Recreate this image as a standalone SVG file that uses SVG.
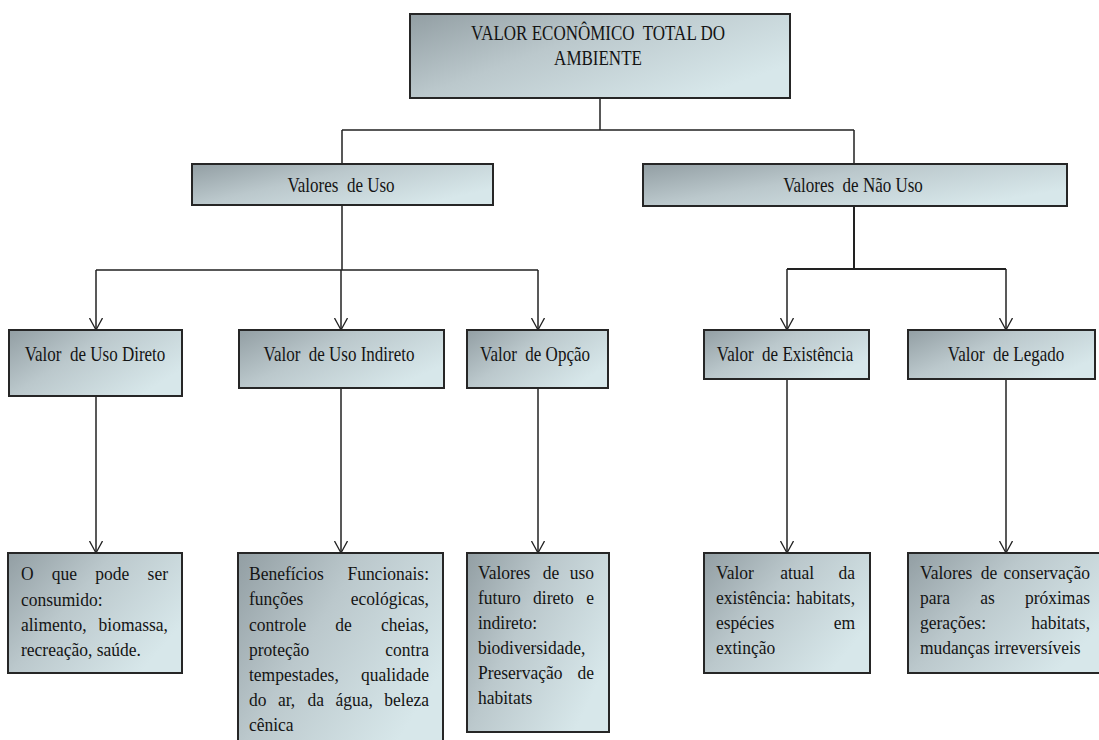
<svg xmlns="http://www.w3.org/2000/svg" width="1099" height="740" viewBox="0 0 1099 740">
<defs>
<linearGradient id="g" x1="0" y1="0" x2="1" y2="0.6">
<stop offset="0" stop-color="#929ea3"/>
<stop offset="0.45" stop-color="#bbc8cc"/>
<stop offset="1" stop-color="#d7e7ea"/>
</linearGradient>
<marker id="v" viewBox="0 0 14 14" markerWidth="14" markerHeight="14" refX="12.5" refY="7" orient="auto" markerUnits="userSpaceOnUse">
<path d="M0.5,0.5 L12.5,7 L0.5,13.5" fill="none" stroke="#222" stroke-width="1.3"/>
</marker>
<style>
.box{fill:url(#g);stroke:#262626;stroke-width:2}
.h{font-family:"Liberation Serif","Times New Roman","DejaVu Serif",serif;font-size:17px;fill:#141414;text-anchor:middle;white-space:pre}
.t{font-family:"Liberation Serif","Times New Roman","DejaVu Serif",serif;font-size:17.5px;fill:#141414}
.c{fill:none;stroke:#222;stroke-width:1.5}
</style>
</defs>
<rect width="1099" height="740" fill="#ffffff"/>

<g id="connectors">
<path class="c" d="M600,98 V130 M342,130 H854 M342,130 V164 M854,130 V164"/>
<path class="c" d="M342,205 V270 M96,270 H538"/>
<path class="c" d="M96,270 V330" marker-end="url(#v)"/>
<path class="c" d="M341,270 V330" marker-end="url(#v)"/>
<path class="c" d="M538,270 V330" marker-end="url(#v)"/>
<path class="c" d="M854,206 V269 M787,269 H1006" style="stroke-width:2"/>
<path class="c" d="M787,269 V330" marker-end="url(#v)"/>
<path class="c" d="M1006,269 V330" marker-end="url(#v)"/>
<path class="c" d="M96,396 V553" marker-end="url(#v)"/>
<path class="c" d="M341,388 V553" marker-end="url(#v)"/>
<path class="c" d="M538,388 V553" marker-end="url(#v)"/>
<path class="c" d="M787,379 V553" marker-end="url(#v)"/>
<path class="c" d="M1006,379 V553" marker-end="url(#v)"/>
</g>

<g id="n-total">
<rect class="box" x="410" y="14" width="380" height="84"/>
<text class="h" xml:space="preserve" transform="translate(598,40) scale(1,1.22)">VALOR ECONÔMICO  TOTAL DO</text>
<text class="h" transform="translate(598,65) scale(1,1.22)">AMBIENTE</text>
</g>

<g id="n-uso">
<rect class="box" x="192" y="164" width="301" height="41"/>
<text class="h" xml:space="preserve" transform="translate(341,192) scale(1,1.2)">Valores  de Uso</text>
</g>

<g id="n-naouso">
<rect class="box" x="643" y="164" width="424" height="42"/>
<text class="h" xml:space="preserve" transform="translate(853,192) scale(1,1.2)">Valores  de Não Uso</text>
</g>

<g id="n-direto">
<rect class="box" x="9" y="330" width="173" height="66"/>
<text class="h" xml:space="preserve" transform="translate(95,361) scale(1,1.2)">Valor  de Uso Direto</text>
</g>

<g id="n-indireto">
<rect class="box" x="239" y="330" width="205" height="58"/>
<text class="h" xml:space="preserve" transform="translate(339,361) scale(1,1.2)">Valor  de Uso Indireto</text>
</g>

<g id="n-opcao">
<rect class="box" x="467" y="330" width="141" height="58"/>
<text class="h" xml:space="preserve" transform="translate(535,361) scale(1,1.2)">Valor  de Opção</text>
</g>

<g id="n-existencia">
<rect class="box" x="704" y="330" width="165" height="49"/>
<text class="h" xml:space="preserve" transform="translate(785,361) scale(1,1.2)">Valor  de Existência</text>
</g>

<g id="n-legado">
<rect class="box" x="908" y="330" width="187" height="49"/>
<text class="h" xml:space="preserve" transform="translate(1006,361) scale(1,1.2)">Valor  de Legado</text>
</g>

<g id="d-direto">
<rect class="box" x="8" y="553" width="174" height="120"/>
<text class="t" transform="translate(0,580) scale(1,1.1)"><tspan x="21">O</tspan><tspan x="51.8">que</tspan><tspan x="95.3">pode</tspan><tspan x="168" text-anchor="end">ser</tspan></text>
<text class="t" transform="translate(0,605.5) scale(1,1.1)"><tspan x="21">consumido:</tspan></text>
<text class="t" transform="translate(0,631) scale(1,1.1)"><tspan x="21">alimento,</tspan><tspan x="168" text-anchor="end">biomassa,</tspan></text>
<text class="t" transform="translate(0,656) scale(1,1.1)"><tspan x="21">recreação, saúde.</tspan></text>
</g>

<g id="d-indireto">
<rect class="box" x="238" y="553" width="205" height="195"/>
<text class="t" transform="translate(0,580) scale(1,1.1)"><tspan x="249">Benefícios</tspan><tspan x="429" text-anchor="end">Funcionais:</tspan></text>
<text class="t" transform="translate(0,605) scale(1,1.1)"><tspan x="249">funções</tspan><tspan x="429" text-anchor="end">ecológicas,</tspan></text>
<text class="t" transform="translate(0,630.5) scale(1,1.1)"><tspan x="249">controle</tspan><tspan x="335.3">de</tspan><tspan x="429" text-anchor="end">cheias,</tspan></text>
<text class="t" transform="translate(0,656) scale(1,1.1)"><tspan x="249">proteção</tspan><tspan x="429" text-anchor="end">contra</tspan></text>
<text class="t" transform="translate(0,681) scale(1,1.1)"><tspan x="249">tempestades,</tspan><tspan x="429" text-anchor="end">qualidade</tspan></text>
<text class="t" transform="translate(0,706) scale(1,1.1)"><tspan x="249">do</tspan><tspan x="278">ar,</tspan><tspan x="307.5">da</tspan><tspan x="335.5">água,</tspan><tspan x="429" text-anchor="end">beleza</tspan></text>
<text class="t" transform="translate(0,731) scale(1,1.1)"><tspan x="249">cênica</tspan></text>
</g>

<g id="d-opcao">
<rect class="box" x="467" y="553" width="142" height="179"/>
<text class="t" transform="translate(0,579) scale(1,1.1)"><tspan x="478">Valores</tspan><tspan x="542.8">de</tspan><tspan x="594" text-anchor="end">uso</tspan></text>
<text class="t" transform="translate(0,604) scale(1,1.1)"><tspan x="478">futuro</tspan><tspan x="533.1">direto</tspan><tspan x="594" text-anchor="end">e</tspan></text>
<text class="t" transform="translate(0,629) scale(1,1.1)"><tspan x="478">indireto:</tspan></text>
<text class="t" transform="translate(0,654) scale(1,1.1)"><tspan x="478">biodiversidade,</tspan></text>
<text class="t" transform="translate(0,679) scale(1,1.1)"><tspan x="478">Preservação</tspan><tspan x="594" text-anchor="end">de</tspan></text>
<text class="t" transform="translate(0,704) scale(1,1.1)"><tspan x="478">habitats</tspan></text>
</g>

<g id="d-existencia">
<rect class="box" x="704" y="553" width="166" height="120"/>
<text class="t" transform="translate(0,579) scale(1,1.1)"><tspan x="716">Valor</tspan><tspan x="780.2">atual</tspan><tspan x="855" text-anchor="end">da</tspan></text>
<text class="t" transform="translate(0,604) scale(1,1.1)"><tspan x="716">existência:</tspan><tspan x="855" text-anchor="end">habitats,</tspan></text>
<text class="t" transform="translate(0,629) scale(1,1.1)"><tspan x="716">espécies</tspan><tspan x="855" text-anchor="end">em</tspan></text>
<text class="t" transform="translate(0,654) scale(1,1.1)"><tspan x="716">extinção</tspan></text>
</g>

<g id="d-legado">
<rect class="box" x="908" y="553" width="195" height="120"/>
<text class="t" transform="translate(0,579) scale(1,1.1)"><tspan x="920">Valores</tspan><tspan x="980.7">de</tspan><tspan x="1090" text-anchor="end">conservação</tspan></text>
<text class="t" transform="translate(0,604) scale(1,1.1)"><tspan x="920">para</tspan><tspan x="980.2">as</tspan><tspan x="1090" text-anchor="end">próximas</tspan></text>
<text class="t" transform="translate(0,629) scale(1,1.1)"><tspan x="920">gerações:</tspan><tspan x="1090" text-anchor="end">habitats,</tspan></text>
<text class="t" transform="translate(0,654) scale(1,1.1)"><tspan x="920">mudanças irreversíveis</tspan></text>
</g>
</svg>
